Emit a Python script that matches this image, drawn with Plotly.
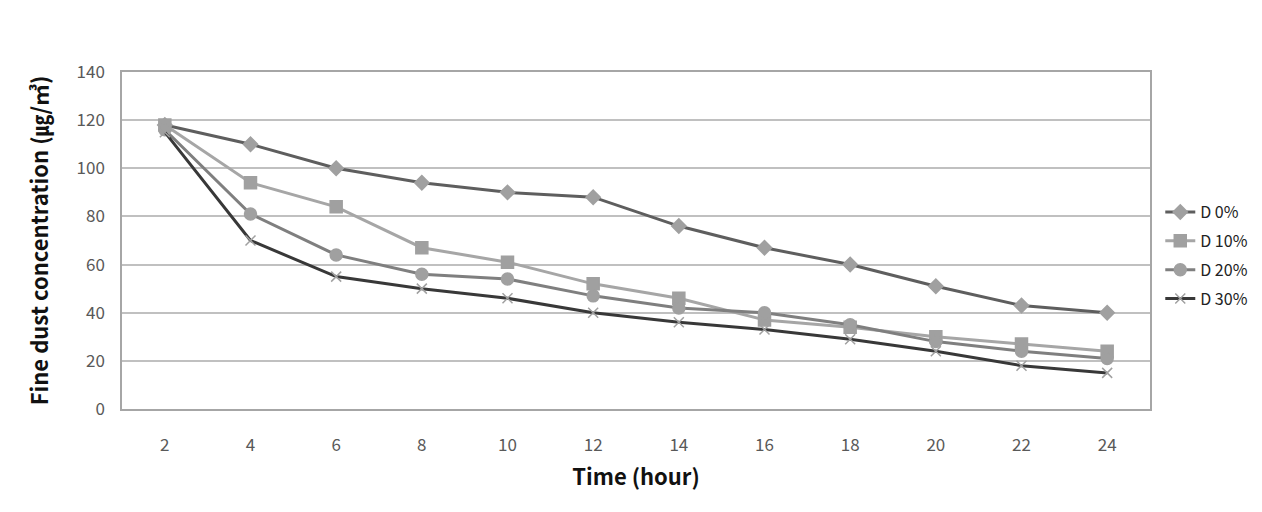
import plotly.graph_objects as go

hours = ["2", "4", "6", "8", "10", "12", "14", "16", "18", "20", "22", "24"]
d0 = [118, 110, 100, 94, 90, 88, 76, 67, 60, 51, 43, 40]
d10 = [118, 94, 84, 67, 61, 52, 46, 37, 34, 30, 27, 24]
d20 = [116, 81, 64, 56, 54, 47, 42, 40, 35, 28, 24, 21]
d30 = [115, 70, 55, 50, 46, 40, 36, 33, 29, 24, 18, 15]

series = [
    ("D 0%", d0, "#5e5e5e", "diamond", 11),
    ("D 10%", d10, "#a6a6a6", "square", 12),
    ("D 20%", d20, "#7f7f7f", "circle", 12),
    ("D 30%", d30, "#383838", "x-thin", 10),
]

fig = go.Figure()
for name, vals, color, symbol, size in series:
    fig.add_trace(
        go.Scatter(
            x=hours,
            y=vals,
            mode="lines+markers",
            name=name,
            legendgroup=name,
            line={"color": color, "width": 3},
            marker={
                "symbol": symbol,
                "size": size,
                "color": "#a0a0a0",
                "line": {"color": "#a0a0a0", "width": 1.5},
            },
        )
    )

tick_font = {"family": "Noto Sans CJK KR", "size": 17, "color": "#595959"}
title_font = {"family": "Noto Sans CJK KR", "size": 22, "color": "#111111"}

# page body adds an 8px margin, so plot-area margins are trimmed to match
fig.update_layout(
    width=1262,
    height=512,
    margin={"l": 114, "r": 120, "t": 64, "b": 111},
    paper_bgcolor="white",
    plot_bgcolor="white",
    showlegend=True,
    legend={
        "x": 1.01,
        "y": 0.455,
        "yanchor": "middle",
        "xanchor": "left",
        "bgcolor": "rgba(0,0,0,0)",
        "font": {"family": "Noto Sans CJK KR", "size": 16, "color": "#222222"},
        "itemwidth": 30,
        "tracegroupgap": 5,
    },
    xaxis={
        "title": {"text": "<b>Time (hour)</b>", "font": title_font, "standoff": 14},
        "tickfont": tick_font,
        "range": [-0.5, 11.5],
        "showgrid": False,
        "showline": True,
        "linecolor": "#a6a6a6",
        "linewidth": 1.5,
        "mirror": True,
        "ticks": "",
        "ticklabelstandoff": 20,
    },
    yaxis={
        "title": {"text": "<b>Fine dust concentration (㎍/㎥)</b>", "font": title_font, "standoff": 22},
        "tickfont": tick_font,
        "range": [0, 140],
        "dtick": 20,
        "showgrid": True,
        "gridcolor": "#c0c0c0",
        "gridwidth": 1.5,
        "showline": True,
        "linecolor": "#a6a6a6",
        "linewidth": 1.5,
        "mirror": True,
        "zeroline": False,
        "ticks": "",
        "ticklabelstandoff": 12,
    },
)

fig.write_html("out.html")
